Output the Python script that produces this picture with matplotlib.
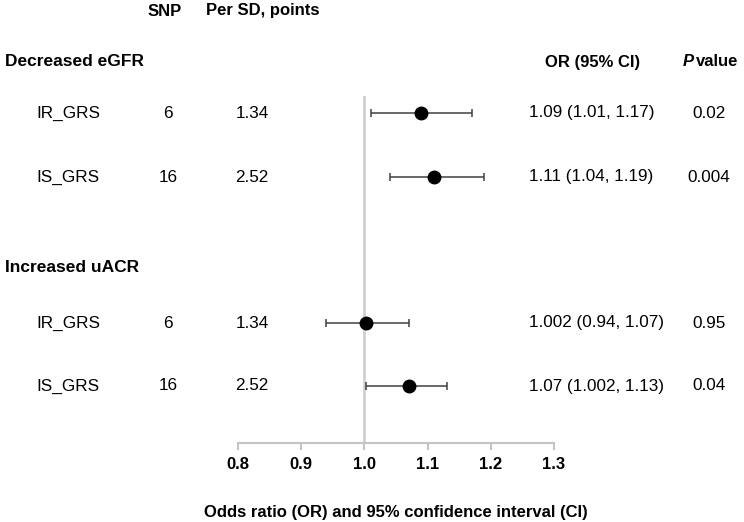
import matplotlib.pyplot as plt

plt.rcParams['font.family'] = ['Liberation Sans', 'DejaVu Sans']

# Data
groups = ["Decreased eGFR", "Increased uACR"]
scores = ["IR_GRS", "IS_GRS", "IR_GRS", "IS_GRS"]
snps = ["6", "16", "6", "16"]
per_sd = ["1.34", "2.52", "1.34", "2.52"]
odds = [1.09, 1.11, 1.002, 1.07]
ci_low = [1.01, 1.04, 0.94, 1.002]
ci_high = [1.17, 1.19, 1.07, 1.13]
or_text = ["1.09 (1.01, 1.17)", "1.11 (1.04, 1.19)", "1.002 (0.94, 1.07)", "1.07 (1.002, 1.13)"]
p_text = ["0.02", "0.004", "0.95", "0.04"]
ticks = [0.8, 0.9, 1.0, 1.1, 1.2, 1.3]

# Layout (pixel rows, top-down)
W, H = 744, 522
row_y = [113, 177, 323, 386]
group_y = [62, 267]

fig = plt.figure(figsize=(W / 100, H / 100), dpi=100)
ax = fig.add_axes([238 / W, 1 - 443 / H, (554 - 238) / W, (443 - 96) / H])
ax.set_xlim(0.8, 1.3)
ax.set_ylim(443, 96)

ax.axvline(1.0, color="#d0d0d0", lw=2, zorder=1)
for i in range(len(odds)):
    ax.errorbar(odds[i], row_y[i],
                xerr=[[odds[i] - ci_low[i]], [ci_high[i] - odds[i]]],
                fmt="o", color="black", ecolor="#404040", elinewidth=1.1,
                capsize=2.6, capthick=1.1, ms=9, zorder=3)

for s in ["top", "right", "left"]:
    ax.spines[s].set_visible(False)
ax.spines["bottom"].set_color("#c4c4c4")
ax.spines["bottom"].set_linewidth(1.5)
ax.set_yticks([])
ax.set_xticks(ticks)
ax.set_xticklabels([f"{t:.1f}" for t in ticks], fontsize=12, fontweight="bold")
ax.tick_params(axis="x", direction="out", length=5, width=1.5, color="#c4c4c4", pad=5)


def px(x, y, s, **kw):
    fig.text(x / W, 1 - y / H, s, va="center", **kw)


# Headers
px(165, 11, "SNP", ha="center", fontsize=12, fontweight="bold")
px(263, 11, "Per SD, points", ha="center", fontsize=12, fontweight="bold")
px(593, 62, "OR (95% CI)", ha="center", fontsize=12, fontweight="bold")
px(683, 62, "P", ha="left", fontsize=12, fontweight="bold", style="italic")
px(696, 62, "value", ha="left", fontsize=12, fontweight="bold")

for g, y in zip(groups, group_y):
    px(5, y, g, ha="left", fontsize=12.5, fontweight="bold")

for i in range(len(scores)):
    px(68, row_y[i], scores[i], ha="center", fontsize=12.3)
    px(168, row_y[i], snps[i], ha="center", fontsize=12.3)
    px(252, row_y[i], per_sd[i], ha="center", fontsize=12.3)
    px(529, row_y[i], or_text[i], ha="left", fontsize=12.3)
    px(709, row_y[i], p_text[i], ha="center", fontsize=12.3)

px(396, 512, "Odds ratio (OR) and 95% confidence interval (CI)", ha="center",
   fontsize=12, fontweight="bold")

plt.savefig("out.png", dpi=100)
